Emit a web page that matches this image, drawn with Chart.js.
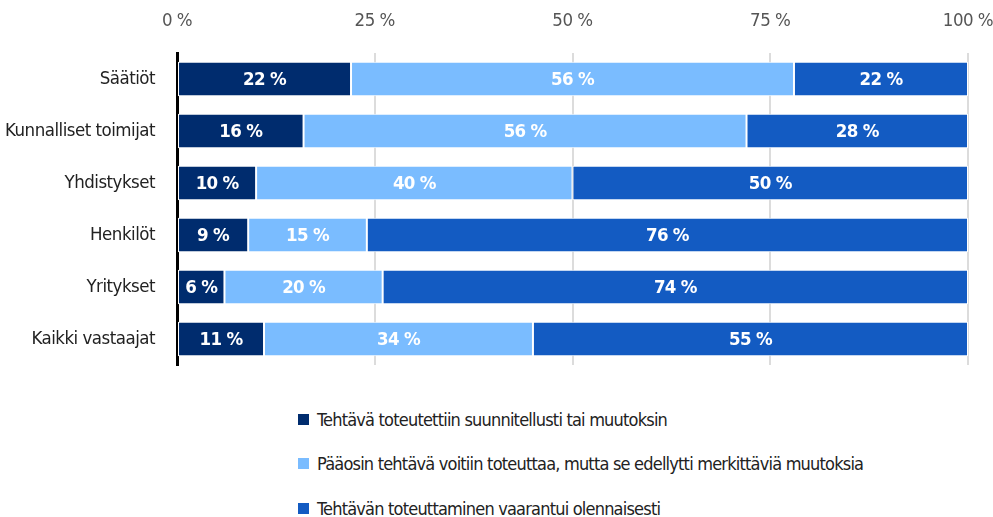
<!DOCTYPE html>
<html>
<head>
<meta charset="utf-8">
<script src="https://cdn.jsdelivr.net/npm/chart.js@4"></script>
<style>
  body { margin: 0; background: #fff; font-family: "DejaVu Sans Condensed", sans-serif; }
  #wrap { position: relative; width: 993px; height: 380px; }
  #legend { list-style: none; margin: 0; padding: 17px 0 0 298px; }
  #legend li { display: flex; align-items: center; height: 44.5px; font-size: 18px; letter-spacing: -0.8px; color: #222; }
  #legend span.box { width: 11px; height: 11px; margin-right: 8px; display: inline-block; }
</style>
</head>
<body>
<div id="wrap"><canvas id="chart"></canvas></div>
<ul id="legend"></ul>
<script>
const FONT = '"DejaVu Sans Condensed", sans-serif';

const categories = ["Säätiöt", "Kunnalliset toimijat", "Yhdistykset", "Henkilöt", "Yritykset", "Kaikki vastaajat"];
const seriesNames = [
    "Tehtävä toteutettiin suunnitellusti tai muutoksin",
    "Pääosin tehtävä voitiin toteuttaa, mutta se edellytti merkittäviä muutoksia",
    "Tehtävän toteuttaminen vaarantui olennaisesti"
];
const completed = [22, 16, 10, 9, 6, 11];
const changed = [56, 56, 40, 15, 20, 34];
const endangered = [22, 28, 50, 76, 74, 55];
const tickValues = [0, 25, 50, 75, 100];
const colors = ["#002c6e", "#7abcff", "#135bc2"];

// tighter letters, the original uses a condensed face
const tightText = {
    id: "tightText",
    beforeDraw: function (chart) {
        chart.ctx.letterSpacing = "-0.5px";
    }
};

// white percentage labels in the middle of each segment
const segmentLabels = {
    id: "segmentLabels",
    afterDatasetsDraw: function (chart) {
        const ctx = chart.ctx;
        ctx.save();
        ctx.letterSpacing = "-0.7px";
        ctx.fillStyle = "#fff";
        ctx.font = "bold 18.5px " + FONT;
        ctx.textAlign = "center";
        ctx.textBaseline = "middle";
        chart.data.datasets.forEach(function (ds, i) {
            chart.getDatasetMeta(i).data.forEach(function (bar, j) {
                const cx = (bar.x + bar.base) / 2;
                ctx.fillText(ds.data[j] + " %", cx, bar.y + 1);
            });
        });
        ctx.restore();
    }
};

const datasets = [completed, changed, endangered].map(function (vals, i) {
    return {
        label: seriesNames[i],
        data: vals,
        backgroundColor: colors[i],
        borderColor: "#fff",
        borderWidth: 1,
        borderSkipped: false,
        barPercentage: 0.66,
        categoryPercentage: 1
    };
});

const chart = new Chart(document.getElementById("chart"), {
    type: "bar",
    data: { labels: categories, datasets: datasets },
    plugins: [tightText, segmentLabels],
    options: {
        indexAxis: "y",
        responsive: true,
        maintainAspectRatio: false,
        animation: false,
        layout: { padding: { top: 0, right: 25, bottom: 15, left: 0 } },
        plugins: {
            legend: { display: false },
            tooltip: { enabled: false }
        },
        scales: {
            x: {
                position: "top",
                stacked: true,
                min: 0,
                max: 100,
                afterBuildTicks: function (scale) {
                    scale.ticks = tickValues.map(function (v) { return { value: v }; });
                },
                afterFit: function (scale) {
                    scale.height = 53;
                    scale.paddingLeft = 0;
                    scale.paddingRight = 0;
                },
                ticks: {
                    callback: function (v) { return v + " %"; },
                    color: "#555",
                    font: { family: FONT, size: 18.5 },
                    padding: 21,
                    maxRotation: 0
                },
                grid: {
                    color: "#dcdcdc",
                    lineWidth: 2,
                    drawTicks: false
                },
                border: { display: false }
            },
            y: {
                stacked: true,
                afterFit: function (scale) {
                    scale.width = 177;
                    scale.paddingTop = 0;
                    scale.paddingBottom = 0;
                },
                ticks: {
                    color: "#222",
                    font: { family: FONT, size: 18.5 },
                    padding: 14
                },
                grid: { display: false },
                border: { color: "#000", width: 3 }
            }
        }
    }
});

// legend in one column, like the original
const legend = document.getElementById("legend");
chart.data.datasets.forEach(function (ds) {
    const li = document.createElement("li");
    li.innerHTML = '<span class="box" style="background:' + ds.backgroundColor + '"></span>' + ds.label;
    legend.appendChild(li);
});
</script>
</body>
</html>
